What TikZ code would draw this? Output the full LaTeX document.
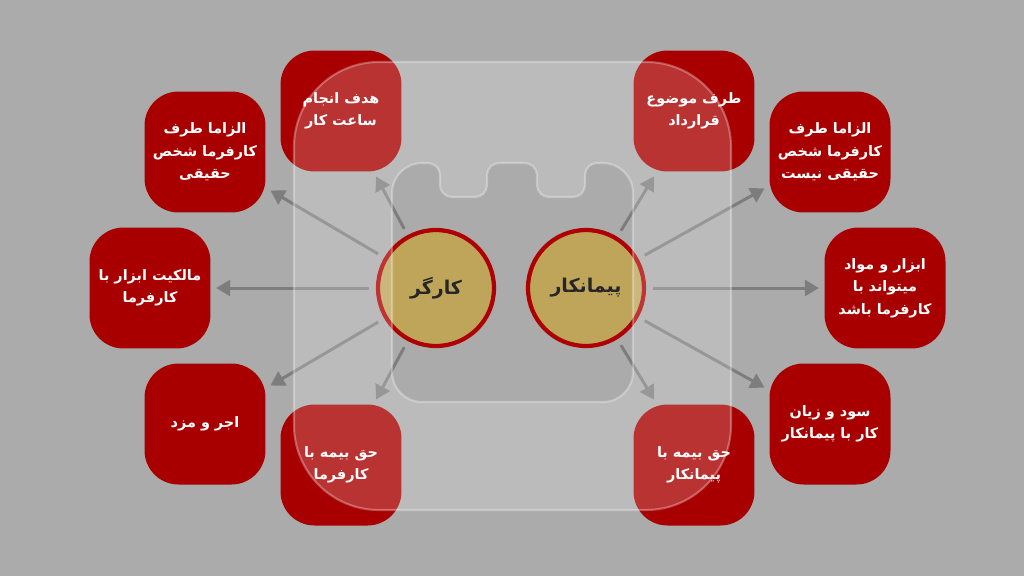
\documentclass[tikz,border=0pt]{standalone}
\usepackage{fontspec}
\usepackage{tikz}
\usetikzlibrary{arrows.meta}
\newfontfamily\arabicfont[Script=Arabic]{DejaVu Sans}
\TeXXeTstate=1
\newcommand{\fa}[1]{{\arabicfont\beginR #1\endR}}
\definecolor{bggray}{HTML}{ABABAB}
\definecolor{boxred}{HTML}{A80000}
\definecolor{ringred}{HTML}{AE0000}
\definecolor{gold}{HTML}{BFA55A}
\definecolor{arrgray}{HTML}{7D7D7D}

\begin{document}
\begin{tikzpicture}[x=0.02cm, y=-0.02cm, >={Triangle[length=8pt,width=9pt]},
		item/.style={fill=boxred, rounded corners=0.68cm, minimum size=2.42cm, inner sep=0pt, text=white, align=center, font=\fontsize{8.2}{12.8}\selectfont\bfseries},
		role/.style={circle, fill=gold, draw=ringred, line width=2.4pt, minimum size=2.32cm, inner sep=0pt, text=black!85, font=\fontsize{10.8}{13}\selectfont\bfseries},
		link/.style={->, draw=arrgray, line width=1.7pt, shorten <=4pt, shorten >=3pt}]
			\useasboundingbox (0,0) rectangle (1024,576);
			\fill[bggray] (0,0) rectangle (1024,576);
			\node[role] (worker) at (436,288) {\fa{کارگر}};
			\node[role] (contractor) at (586,288) {\fa{پیمانکار}};
			\node[item] (w1) at (341,111) {\fa{هدف انجام}\\\fa{ساعت کار}};
			\node[item] (w2) at (205,152) {\fa{الزاما طرف}\\\fa{کارفرما شخص}\\\fa{حقیقی}};
			\node[item] (w3) at (150,288) {\fa{مالکیت ابزار با}\\\fa{کارفرما}};
			\node[item] (w4) at (205,424) {\fa{اجر و مزد}};
			\node[item] (w5) at (341,465) {\fa{حق بیمه با}\\\fa{کارفرما}};
			\node[item] (c1) at (694,111) {\fa{طرف موضوع}\\\fa{قرارداد}};
			\node[item] (c2) at (830,152) {\fa{الزاما طرف}\\\fa{کارفرما شخص}\\\fa{حقیقی نیست}};
			\node[item] (c3) at (885,288) {\fa{ابزار و مواد}\\\fa{میتواند با}\\\fa{کارفرما باشد}};
			\node[item] (c4) at (830,424) {\fa{سود و زیان}\\\fa{کار با پیمانکار}};
			\node[item] (c5) at (694,465) {\fa{حق بیمه با}\\\fa{پیمانکار}};
			\draw[link] (worker) -- (w1);
			\draw[link] (worker) -- (w2);
			\draw[link] (worker) -- (w3);
			\draw[link] (worker) -- (w4);
			\draw[link] (worker) -- (w5);
			\draw[link] (contractor) -- (c1);
			\draw[link] (contractor) -- (c2);
			\draw[link] (contractor) -- (c3);
			\draw[link] (contractor) -- (c4);
			\draw[link] (contractor) -- (c5);
			\path[fill=white, fill opacity=0.2, draw=white, draw opacity=0.3, line width=1.2pt, even odd rule]
				[rounded corners=1.7cm] (294,62) rectangle (731,510)
				[sharp corners] (392,372) -- (392,193) arc(180:270:30) -- (428,163) arc(270:360:12)
				-- (440,185) arc(180:90:12) -- (475,197) arc(90:0:12) -- (487,175) arc(180:270:12)
				-- (525,163) arc(270:360:12) -- (537,185) arc(180:90:12) -- (573,197) arc(90:0:12)
				-- (585,175) arc(180:270:12) -- (603,163) arc(270:360:30) -- (633,372) arc(0:90:30)
				-- (422,402) arc(90:180:30) -- cycle;
			\end{tikzpicture}
\end{document}
